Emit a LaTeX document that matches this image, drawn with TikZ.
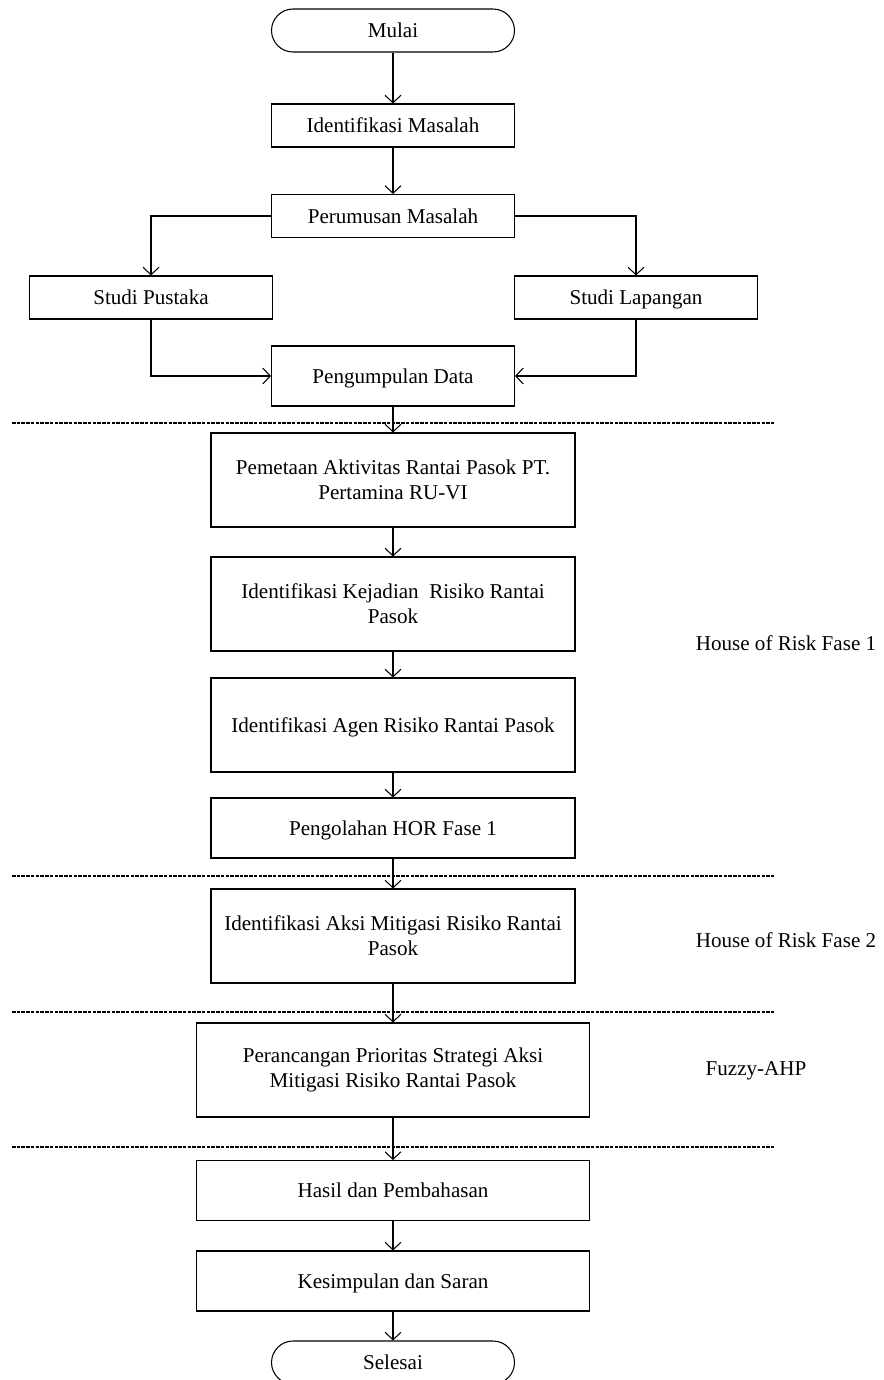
\documentclass[tikz,border=0pt]{standalone}
\usepackage{fontspec}
\setmainfont{Liberation Serif}
\usepackage{tikz}
\usetikzlibrary{
    arrows.meta,
    positioning,
    calc
}

\begin{document}
\begin{tikzpicture}[
        box/.style={rectangle, draw, line width=0.6pt, minimum width=4.86cm, minimum height=0.86cm, align=center, inner sep=2pt, font=\fontsize{12}{14.2}\selectfont},
        oneline/.style={text height=10pt, text depth=2pt},
        widebox/.style={box, minimum width=7.28cm, minimum height=1.88cm},
        terminal/.style={box, oneline, rounded corners=0.43cm},
        arrow/.style={-{Straight Barb[length=1.5mm, width=3.2mm]}, line width=0.6pt},
        separator/.style={line width=0.6pt, dash pattern=on 2pt off 0.7pt},
        phase/.style={font=\fontsize{12}{14.2}\selectfont}
    ]
        \useasboundingbox (0,0) rectangle (17.66,-27.6);

        % Start and problem definition
        \node[terminal] (mulai) at (7.86,-0.61) {Mulai};
        \node[box, oneline] (idm) at (7.86,-2.51) {Identifikasi Masalah};
        \node[box, oneline] (rumus) at (7.86,-4.32) {Perumusan Masalah};

        % Studies
        \node[box, oneline] (pustaka) at (3.02,-5.95) {Studi Pustaka};
        \node[box, oneline] (lapangan) at (12.72,-5.95) {Studi Lapangan};
        \node[box, oneline, minimum height=1.2cm] (kumpul) at (7.86,-7.52) {Pengumpulan Data};

        % House of Risk phase 1
        \node[widebox] (petakan) at (7.86,-9.60) {Pemetaan Aktivitas Rantai Pasok PT.\\Pertamina RU-VI};
        \node[widebox] (kejadian) at (7.86,-12.08) {Identifikasi Kejadian~ Risiko Rantai\\Pasok};
        \node[widebox, oneline] (agen) at (7.86,-14.50) {Identifikasi Agen Risiko Rantai Pasok};
        \node[widebox, oneline, minimum height=1.2cm] (olah) at (7.86,-16.56) {Pengolahan HOR Fase 1};

        % House of Risk phase 2
        \node[widebox] (aksi) at (7.86,-18.72) {Identifikasi Aksi Mitigasi Risiko Rantai\\Pasok};

        % Fuzzy-AHP
        \node[widebox, minimum width=7.86cm] (rancang) at (7.86,-21.40) {Perancangan Prioritas Strategi Aksi\\Mitigasi Risiko Rantai Pasok};

        % Results and end
        \node[box, oneline, minimum width=7.86cm, minimum height=1.2cm] (hasil) at (7.86,-23.81) {Hasil dan Pembahasan};
        \node[box, oneline, minimum width=7.86cm, minimum height=1.2cm] (simpul) at (7.86,-25.62) {Kesimpulan dan Saran};
        \node[terminal] (selesai) at (7.86,-27.25) {Selesai};

        % Phase labels
        \node[phase] (hor1) at (15.72,-12.86) {House of Risk Fase 1};
        \node[phase] (hor2) at (15.72,-18.80) {House of Risk Fase 2};
        \node[phase] (fahp) at (15.12,-21.42) {Fuzzy-AHP};

        % Phase separators
        \foreach \y in {-8.46,-17.52,-20.24,-22.94}
            \draw[separator] (0.24,\y) -- (15.48,\y);

        % Arrows
        \draw[arrow] (mulai) -- (idm);
        \draw[arrow] (idm) -- (rumus);
        \draw[arrow] (rumus.west) -| (pustaka.north);
        \draw[arrow] (rumus.east) -| (lapangan.north);
        \draw[arrow] (pustaka.south) |- (kumpul.west);
        \draw[arrow] (lapangan.south) |- (kumpul.east);
        \draw[arrow] (kumpul) -- (petakan);
        \draw[arrow] (petakan) -- (kejadian);
        \draw[arrow] (kejadian) -- (agen);
        \draw[arrow] (agen) -- (olah);
        \draw[arrow] (olah) -- (aksi);
        \draw[arrow] (aksi) -- (rancang);
        \draw[arrow] (rancang) -- (hasil);
        \draw[arrow] (hasil) -- (simpul);
        \draw[arrow] (simpul) -- (selesai);
    \end{tikzpicture}
\end{document}
